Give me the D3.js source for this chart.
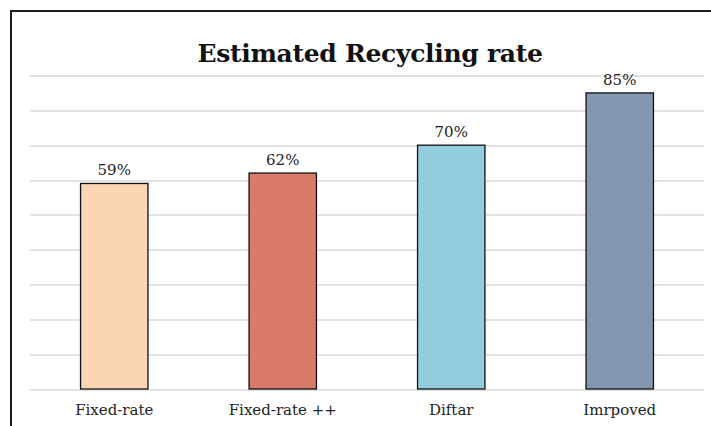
<!DOCTYPE html>
<html>
<head>
<meta charset="utf-8">
<script src="https://cdn.jsdelivr.net/npm/d3@7"></script>
<style>
  body { margin: 0; background: #fff; }
  svg { display: block; }
</style>
</head>
<body>
<div id="vis-container"></div>
<script>
// Data
var categories = ['Fixed-rate', 'Fixed-rate ++', 'Diftar', 'Imrpoved']
var rates = [0.59, 0.62, 0.70, 0.85]
var barColors = ['#FCD5B5', '#DA7A6A', '#93CDDD', '#8497B0']
var gridTicks = [0, 0.1, 0.2, 0.3, 0.4, 0.5, 0.6, 0.7, 0.8, 0.9]
var title = 'Estimated Recycling rate'

// Variables
var width = 711
var height = 426
var margin = { top: 75.5, right: 7, bottom: 37, left: 30 }
var w = width - margin.left - margin.right
var h = height - margin.top - margin.bottom
var formatPercent = d3.format('.0%')
var serif = "Georgia, 'DejaVu Serif', serif"

// SVG
var svg = d3.select('#vis-container').append('svg')
    .attr('width', width)
    .attr('height', height)

// chart border (runs off the right and bottom)
svg.append('rect')
    .attr('x', 11)
    .attr('y', 11)
    .attr('width', width)
    .attr('height', height)
    .attr('fill', 'none')
    .attr('stroke', '#1a1a1a')
    .attr('stroke-width', 2)

var g = svg.append('g')
    .attr('transform', 'translate(' + margin.left + ',' + margin.top + ')')

// Scales
var xScale = d3.scaleBand()
    .domain(categories)
    .range([0, w])
    .padding(0)
var yScale = d3.scaleLinear()
    .domain([0, 0.9])
    .range([h, 0])

// Gridlines
g.selectAll('.grid')
    .data(gridTicks)
    .enter()
  .append('line')
    .attr('class', 'grid')
    .attr('x1', 0)
    .attr('x2', w)
    .attr('y1', function (d) { return Math.round(yScale(d)) + 0.5 })
    .attr('y2', function (d) { return Math.round(yScale(d)) + 0.5 })
    .attr('stroke', '#d9d9d9')
    .attr('stroke-width', 1.5)

// Bars
var barW = xScale.bandwidth() * 0.4
g.selectAll('.bar')
    .data(rates)
    .enter()
  .append('rect')
    .attr('class', 'bar')
    .attr('x', function (d, i) { return xScale(categories[i]) + (xScale.bandwidth() - barW) / 2 })
    .attr('y', function (d) { return yScale(d) })
    .attr('width', barW)
    .attr('height', function (d) { return h - yScale(d) })
    .attr('fill', function (d, i) { return barColors[i] })
    .attr('stroke', '#111')
    .attr('stroke-width', 1.3)

// Value labels
g.selectAll('.value')
    .data(rates)
    .enter()
  .append('text')
    .attr('class', 'value')
    .attr('x', function (d, i) { return xScale(categories[i]) + xScale.bandwidth() / 2 })
    .attr('y', function (d) { return yScale(d) - 8 })
    .attr('text-anchor', 'middle')
    .style('font-family', serif)
    .style('font-size', '15px')
    .attr('fill', '#222')
    .text(function (d) { return formatPercent(d) })

// Category labels
g.selectAll('.cat')
    .data(categories)
    .enter()
  .append('text')
    .attr('class', 'cat')
    .attr('x', function (d) { return xScale(d) + xScale.bandwidth() / 2 })
    .attr('y', h + 26)
    .attr('text-anchor', 'middle')
    .style('font-family', serif)
    .style('font-size', '15px')
    .attr('fill', '#222')
    .text(function (d) { return d })

// Title
svg.append('text')
    .attr('x', 370)
    .attr('y', 62)
    .attr('text-anchor', 'middle')
    .style('font-family', serif)
    .style('font-size', '25px')
    .style('font-weight', 'bold')
    .style('letter-spacing', '-0.3px')
    .attr('fill', '#111')
    .text(title)
</script>
</body>
</html>
